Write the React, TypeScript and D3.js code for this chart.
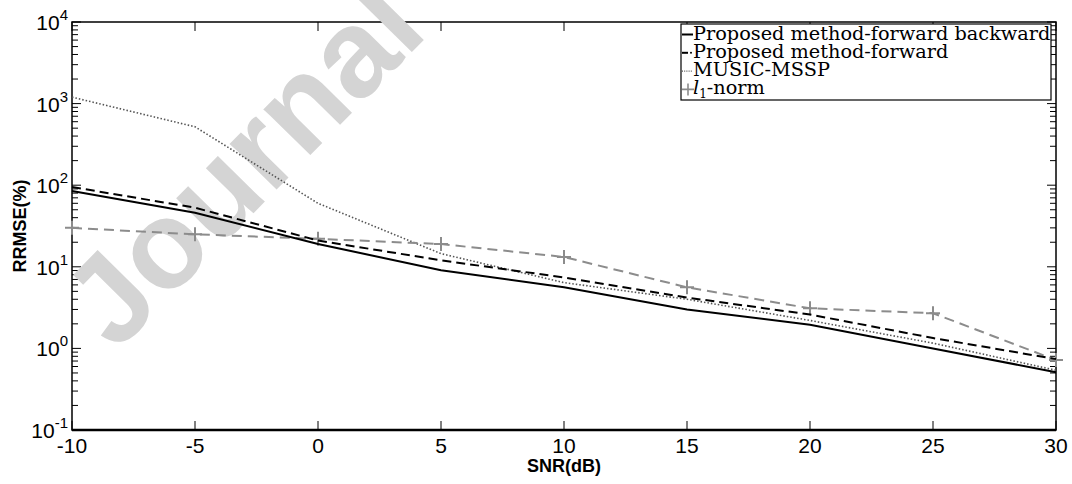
import React from 'react';
import * as d3 from 'd3';

// SNR values (dB)
const snr = [-10, -5, 0, 5, 10, 15, 20, 25, 30];

// RRMSE (%) per method
const fwdBwd = [85, 46, 19, 9.1, 5.6, 3.0, 1.95, 1.0, 0.51];
const fwd = [95, 53, 21, 12, 7.4, 4.2, 2.6, 1.34, 0.74];
const musicMssp = [1200, 520, 60, 14.5, 6.4, 4.0, 2.2, 1.16, 0.54];
const l1Norm = [30, 25, 22, 19, 13.2, 5.6, 3.1, 2.7, 0.72];

const xTicks = [-10, -5, 0, 5, 10, 15, 20, 25, 30];
const yDecades = [-1, 0, 1, 2, 3, 4];

const W = 1072;
const H = 484;
const margin = { top: 22, right: 16, bottom: 54, left: 72 };

const App = () => {
  const x = d3.scaleLinear().domain([-10, 30]).range([margin.left, W - margin.right]);
  const y = d3.scaleLog().domain([0.1, 10000]).range([H - margin.bottom, margin.top]);

  const line = d3.line<[number, number]>()
    .x(d => x(d[0]))
    .y(d => y(d[1]));
  const pts = (vals: number[]) => snr.map((s, i) => [s, vals[i]] as [number, number]);

  const x0 = x.range()[0];
  const x1 = x.range()[1];
  const yTop = y.range()[1];
  const yBot = y.range()[0];

  const minor: number[] = [];
  yDecades.slice(0, -1).forEach(e => {
    for (let k = 2; k <= 9; k++) minor.push(k * Math.pow(10, e));
  });

  const sans = 'Liberation Sans, Arial, sans-serif';
  const serif = 'DejaVu Serif, serif';

  // legend
  const lg = { x: 681, y: 24, w: 370, h: 76, row: 18.3 };
  const legendRows = [
    'Proposed method-forward backward',
    'Proposed method-forward',
    'MUSIC-MSSP',
    'l1',
  ];

  return (
    <svg width={W} height={H} style={{ position: 'absolute', left: 0, top: 0, background: '#fff' }}>
      {/* frame */}
      <rect x={x0} y={yTop} width={x1 - x0} height={yBot - yTop} fill="none" stroke="#000" strokeWidth={1.5} />
      <line x1={x0} x2={x1} y1={yBot} y2={yBot} stroke="#000" strokeWidth={2.5} />

      {/* x ticks */}
      {xTicks.map(t => (
        <g key={t}>
          <line x1={x(t)} x2={x(t)} y1={yBot} y2={yBot - 9} stroke="#000" />
          <line x1={x(t)} x2={x(t)} y1={yTop} y2={yTop + 9} stroke="#000" />
          <text x={x(t)} y={yBot + 23} textAnchor="middle" fontFamily={sans} fontSize={21}>
            {t}
          </text>
        </g>
      ))}

      {/* y ticks */}
      {yDecades.map(e => (
        <g key={e}>
          <line x1={x0} x2={x0 + 9} y1={y(Math.pow(10, e))} y2={y(Math.pow(10, e))} stroke="#000" />
          <line x1={x1} x2={x1 - 9} y1={y(Math.pow(10, e))} y2={y(Math.pow(10, e))} stroke="#000" />
          <text x={x0 - 4} y={y(Math.pow(10, e)) + 8} textAnchor="end" fontFamily={sans} fontSize={21}>
            10<tspan dy={-10} fontSize={15}>{e}</tspan>
          </text>
        </g>
      ))}
      {minor.map((m, i) => (
        <g key={i}>
          <line x1={x0} x2={x0 + 6} y1={y(m)} y2={y(m)} stroke="#000" />
          <line x1={x1} x2={x1 - 6} y1={y(m)} y2={y(m)} stroke="#000" />
        </g>
      ))}

      {/* watermark */}
      <text
        x={0}
        y={0}
        transform="translate(116,353) rotate(-45.5)"
        fontFamily={sans}
        fontWeight="bold"
        fontSize={124}
        fill="#d4d4d4"
      >
        Journal
      </text>

      {/* series */}
      <path d={line(pts(musicMssp)) || ''} fill="none" stroke="#555" strokeWidth={1.6} strokeDasharray="1.5,2" />
      <path d={line(pts(l1Norm)) || ''} fill="none" stroke="#8c8c8c" strokeWidth={2} strokeDasharray="10,6" />
      {pts(l1Norm).map((d, i) => (
        <path
          key={i}
          d={`M${x(d[0]) - 7},${y(d[1])}H${x(d[0]) + 7}M${x(d[0])},${y(d[1]) - 7}V${y(d[1]) + 7}`}
          stroke="#8c8c8c"
          strokeWidth={2}
        />
      ))}
      <path d={line(pts(fwd)) || ''} fill="none" stroke="#000" strokeWidth={2} strokeDasharray="9,5" />
      <path d={line(pts(fwdBwd)) || ''} fill="none" stroke="#000" strokeWidth={2} />

      {/* axis titles */}
      <text x={(x0 + x1) / 2} y={472} textAnchor="middle" fontFamily={sans} fontWeight="bold" fontSize={18}>
        SNR(dB)
      </text>
      <text
        transform={`translate(26,${(yTop + yBot) / 2}) rotate(-90)`}
        textAnchor="middle"
        fontFamily={sans}
        fontWeight="bold"
        fontSize={18}
      >
        RRMSE(%)
      </text>

      {/* legend */}
      <rect x={lg.x} y={lg.y} width={lg.w} height={lg.h} fill="#fff" stroke="#000" strokeWidth={1.2} />
      {legendRows.map((label, i) => {
        const base = lg.y + 15.5 + i * lg.row;
        const cy = base - 5;
        const tx = lg.x + 12;
        return (
          <g key={i}>
            {i === 0 && <line x1={lg.x + 1} x2={lg.x + 12} y1={cy} y2={cy} stroke="#000" strokeWidth={2} />}
            {i === 1 && (
              <g>
                <line x1={lg.x + 1} x2={lg.x + 7} y1={cy} y2={cy} stroke="#000" strokeWidth={2} />
                <circle cx={lg.x + 10} cy={cy} r={1} fill="#000" />
              </g>
            )}
            {i === 2 && <line x1={lg.x + 1} x2={lg.x + 12} y1={cy} y2={cy} stroke="#555" strokeWidth={1.2} strokeDasharray="1,1.2" />}
            {i === 3 && (
              <path d={`M${lg.x + 1},${cy}H${lg.x + 13}M${lg.x + 7},${cy - 6}V${cy + 6}`} stroke="#8c8c8c" strokeWidth={1.6} />
            )}
            <text x={tx} y={base} fontFamily={serif} fontSize={19.3}>
              {i === 3 ? (
                <>
                  <tspan fontStyle="italic">l</tspan>
                  <tspan dy={4} fontSize={12}>1</tspan>
                  <tspan dy={-4}>-norm</tspan>
                </>
              ) : (
                label
              )}
            </text>
          </g>
        );
      })}
    </svg>
  );
};

export default App;
